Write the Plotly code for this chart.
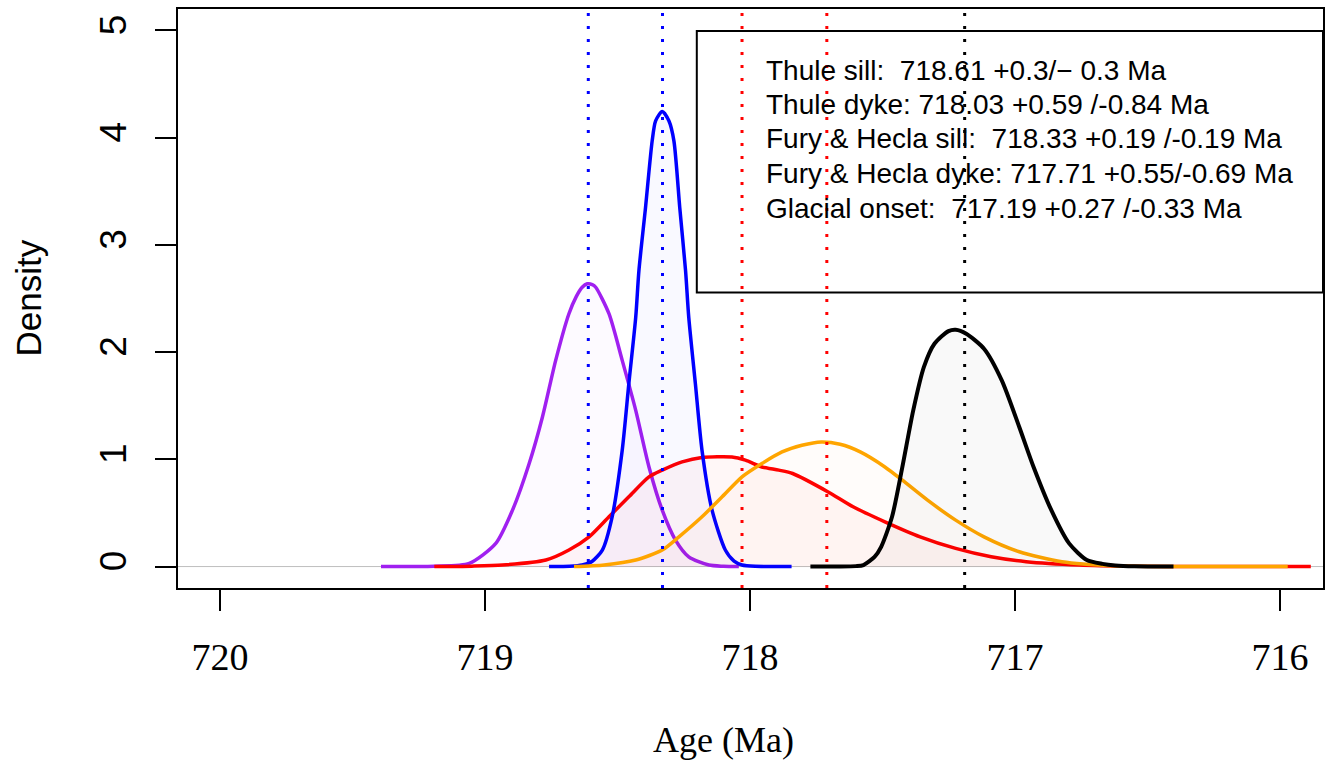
import plotly.graph_objects as go

# Posterior age densities (Ma) for each dated unit
thule_sill_age = [719.392, 719.191, 719.059, 718.959, 718.896, 718.833, 718.783, 718.733, 718.683,
                  718.655, 718.633, 718.614, 718.595, 718.582, 718.532, 718.482, 718.431, 718.381,
                  718.331, 718.281, 718.231, 718.155, 718.10, 718.042]
thule_sill_dens = [0.0, 0.004, 0.03, 0.216, 0.526, 0.961, 1.395, 1.923, 2.358,
                   2.52, 2.605, 2.637, 2.63, 2.605, 2.358, 1.923, 1.457, 0.929,
                   0.526, 0.247, 0.091, 0.014, 0.003, 0.0]

thule_dyke_age = [719.191, 719.05, 718.934, 718.770, 718.683, 718.607, 718.532, 718.457, 718.381,
                  718.331, 718.256, 718.181, 718.068, 718.017, 717.955, 717.891, 717.839, 717.705,
                  717.611, 717.491, 717.358, 717.224, 717.090, 716.958, 716.758, 716.556, 716.30,
                  715.884]
thule_dyke_dens = [0.0, 0.004, 0.014, 0.061, 0.154, 0.277, 0.464, 0.650, 0.836,
                   0.899, 0.976, 1.017, 1.022, 0.992, 0.929, 0.899, 0.868, 0.696,
                   0.557, 0.417, 0.277, 0.169, 0.091, 0.045, 0.014, 0.003, 0.0,
                   0.0]

fh_sill_age = [718.758, 718.68, 718.633, 718.595, 718.557, 718.520, 718.482, 718.457, 718.431,
               718.419, 718.394, 718.369, 718.356, 718.331, 718.306, 718.287, 718.265, 718.243,
               718.231, 718.206, 718.181, 718.143, 718.093, 718.06, 718.030, 717.98, 717.843]
fh_sill_dens = [0.0, 0.002, 0.014, 0.05, 0.154, 0.464, 1.085, 1.706, 2.326,
                2.76, 3.35, 3.97, 4.157, 4.244, 4.157, 3.97, 3.35, 2.76,
                2.326, 1.706, 1.085, 0.526, 0.154, 0.05, 0.014, 0.002, 0.0]

fh_dyke_age = [718.664, 718.55, 718.431, 718.331, 718.268, 718.181, 718.105, 718.030, 717.955,
               717.879, 717.804, 717.731, 717.66, 717.584, 717.491, 717.425, 717.330, 717.224,
               717.117, 716.984, 716.823, 716.622, 716.40, 715.971]
fh_dyke_dens = [0.0, 0.015, 0.061, 0.154, 0.277, 0.464, 0.650, 0.836, 0.961,
                1.069, 1.131, 1.162, 1.14, 1.069, 0.929, 0.805, 0.619, 0.433,
                0.277, 0.138, 0.045, 0.007, 0.001, 0.0]

glacial_age = [717.772, 717.66, 717.60, 717.572, 717.53, 717.505, 717.464, 717.425, 717.384,
               717.344, 717.304, 717.251, 717.224, 717.184, 717.117, 717.050, 716.984, 716.930,
               716.863, 716.796, 716.729, 716.67, 716.622, 716.55, 716.402]
glacial_dens = [0.0, 0.0, 0.004, 0.014, 0.09, 0.184, 0.464, 0.929, 1.457,
                1.860, 2.078, 2.196, 2.209, 2.171, 2.032, 1.737, 1.302, 0.929,
                0.526, 0.216, 0.061, 0.025, 0.01, 0.002, 0.0]

# Median ages marked with dotted verticals
median_ages = [718.61, 718.33, 718.03, 717.71, 717.19]
median_colors = ["blue", "blue", "red", "red", "black"]

legend_lines = [
    "Thule sill:\u00a0\u00a0718.61 +0.3/\u2212 0.3 Ma",
    "Thule dyke: 718.03 +0.59 /-0.84 Ma",
    "Fury & Hecla sill:\u00a0\u00a0718.33 +0.19 /-0.19 Ma",
    "Fury & Hecla dyke: 717.71 +0.55/-0.69 Ma",
    "Glacial onset:\u00a0\u00a0717.19 +0.27 /-0.33 Ma",
]

x_ticks = [720, 719, 718, 717, 716]
y_ticks = [0, 1, 2, 3, 4, 5]

series = [
    (thule_sill_age, thule_sill_dens, "#A020F0", "rgba(160,32,240,0.022)", 3.5),
    (thule_dyke_age, thule_dyke_dens, "#FF0000", "rgba(255,0,0,0.03)", 3.5),
    (fh_sill_age, fh_sill_dens, "#0000FF", "rgba(0,0,255,0.025)", 3.5),
    (fh_dyke_age, fh_dyke_dens, "#FFA500", "rgba(255,120,0,0.02)", 3.5),
    (glacial_age, glacial_dens, "#000000", "rgba(0,0,0,0.022)", 4),
]

fig = go.Figure()
for ages, dens, col, fillcol, lw in series:
    fig.add_trace(go.Scatter(
        x=ages, y=dens, mode="lines",
        line=dict(color=col, width=lw, shape="spline", smoothing=0.7),
        fill="tozeroy", fillcolor=fillcol,
        hoverinfo="skip", showlegend=False,
    ))

shapes = []
# horizontal reference at zero density
shapes.append(dict(type="line", xref="paper", yref="y", x0=0, x1=1, y0=0, y1=0,
                   line=dict(color="#BEBEBE", width=1), layer="below"))
# dotted medians
for a, c in zip(median_ages, median_colors):
    shapes.append(dict(type="line", xref="x", yref="paper", x0=a, x1=a, y0=0, y1=1,
                       line=dict(color=c, width=3, dash="3px,10px"), layer="above"))
# legend frame
shapes.append(dict(type="rect", xref="paper", yref="paper", x0=0.4531, x1=1.0,
                   y0=0.5103, y1=0.962, line=dict(color="black", width=2),
                   fillcolor="rgba(0,0,0,0)", layer="above"))

annotations = []
legend_y = [0.893, 0.835, 0.776, 0.7155, 0.655]
for txt, yy in zip(legend_lines, legend_y):
    annotations.append(dict(text=txt, xref="paper", yref="paper", x=0.5115, y=yy,
                            xanchor="left", yanchor="middle", showarrow=False,
                            font=dict(family="Liberation Sans", size=28, color="black")))
annotations.append(dict(text="Age (Ma)", xref="paper", yref="paper", x=0.4766, y=-0.262,
                        xanchor="center", yanchor="middle", showarrow=False,
                        font=dict(family="Liberation Serif", size=36, color="black")))
annotations.append(dict(text="Density", xref="paper", yref="paper", x=-0.131, y=0.5,
                        xanchor="center", yanchor="middle", showarrow=False, textangle=-90,
                        font=dict(family="Liberation Sans", size=35, color="black")))

fig.update_layout(
    width=1332, height=761, autosize=False,
    margin=dict(l=178, r=7, t=8, b=173),
    paper_bgcolor="white", plot_bgcolor="white",
    shapes=shapes, annotations=annotations,
    showlegend=False,
)
fig.update_xaxes(
    range=[720.158, 715.838], tickmode="array", tickvals=x_ticks,
    ticktext=[str(v) for v in x_ticks],
    ticks="outside", ticklen=21, tickwidth=2, tickcolor="black",
    showline=True, linecolor="black", linewidth=2, mirror=True,
    showgrid=False, zeroline=False, ticklabelstandoff=13,
    tickfont=dict(family="Liberation Serif", size=38, color="black"),
)
fig.update_yaxes(
    range=[-0.2, 5.2], tickmode="array", tickvals=y_ticks,
    ticktext=[str(v) for v in y_ticks], tickangle=-90,
    ticks="outside", ticklen=21, tickwidth=2, tickcolor="black",
    showline=True, linecolor="black", linewidth=2, mirror=True,
    showgrid=False, zeroline=False, ticklabelstandoff=14,
    tickfont=dict(family="Liberation Sans", size=37, color="black"),
)

fig.write_html("out.html")
